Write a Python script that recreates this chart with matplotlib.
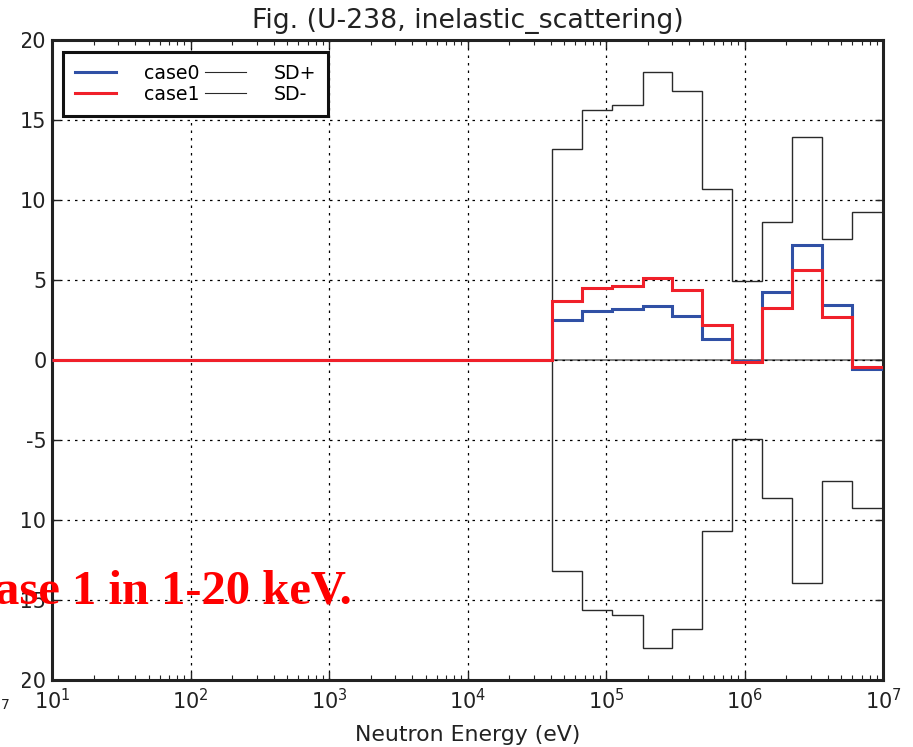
import matplotlib
matplotlib.use("Agg")
import matplotlib.pyplot as plt
from matplotlib.patches import Rectangle
from matplotlib.lines import Line2D

# Energy group edges (eV)
edges = [1e1, 4.06e4, 6.67e4, 1.11e5, 1.84e5, 3.0e5, 4.96e5, 8.17e5,
         1.34e6, 2.21e6, 3.65e6, 6.0e6, 1e7]
case0 = [0.0, 2.53, 3.09, 3.16, 3.36, 2.74, 1.30, -0.05, 4.24, 7.18, 3.41, -0.59]
case1 = [0.0, 3.68, 4.47, 4.63, 5.11, 4.38, 2.16, -0.13, 3.28, 5.63, 2.68, -0.45]
sd_plus = [0.0, 13.2, 15.6, 15.95, 18.0, 16.8, 10.7, 4.93, 8.65, 13.95, 7.56, 9.22]
sd_minus = [-v for v in sd_plus]

title = "Fig. (U-238, inelastic_scattering)"
xlabel = "Neutron Energy (eV)"
yticks = [-20, -15, -10, -5, 0, 5, 10, 15, 20]

W, H = 913, 747
fig = plt.figure(figsize=(W / 100, H / 100), dpi=100)
ax = fig.add_axes([52 / W, (H - 680) / H, 831 / W, 640 / H])

ax.axhline(0, color='0.5', lw=1.4, zorder=1)
ax.stairs(sd_plus, edges, baseline=None, color='#2a2a2a', lw=1.0, zorder=2)
ax.stairs(sd_minus, edges, baseline=None, color='#2a2a2a', lw=1.0, zorder=2)
ax.stairs(case0, edges, baseline=None, color='#3050a5', lw=2.2, zorder=3)
ax.stairs(case1, edges, baseline=None, color='#f0202a', lw=2.2, zorder=4)

ax.set_xscale('log')
ax.set_xlim(1e1, 1e7)
ax.set_ylim(-20, 20)
ax.set_yticks(yticks)
ax.set_yticklabels([str(v) for v in yticks])
ax.grid(True, which='major', color='black', linestyle=(0, (2, 4)), lw=0.9)
ax.tick_params(which='both', direction='in', top=True, right=True, colors='#222222')
ax.tick_params(which='major', length=6, width=1, labelsize=15)
ax.tick_params(which='minor', length=3.5, width=0.8)
ax.tick_params(axis='y', pad=4)
ax.tick_params(axis='x', pad=6)
for s in ax.spines.values():
    s.set_linewidth(2.2)
    s.set_color('#222222')

ax.set_title(title, fontsize=19.3, color='#222222', pad=8.5)
ax.set_xlabel(xlabel, fontsize=15.8, color='#222222', labelpad=8)

handles = [Line2D([], [], color='#3050a5', lw=2.2),
           Line2D([], [], color='#f0202a', lw=2.2),
           Line2D([], [], color='#2a2a2a', lw=0.8),
           Line2D([], [], color='#2a2a2a', lw=0.8)]
labels = ['case0', 'case1', 'SD+', 'SD-']
leg = ax.legend(handles, labels, ncol=2, loc='upper left', fontsize=13.6,
                fancybox=False, framealpha=1, edgecolor='#111111',
                handlelength=2.2, handletextpad=1.45, columnspacing=0.3,
                labelspacing=0.12, borderpad=0.62, borderaxespad=0,
                bbox_to_anchor=(11 / 831, 1 - 12 / 640))
leg.get_frame().set_linewidth(2.2)

# Overlay elements from the slide
fig.patches.append(Rectangle((0, 0), 22 / W, 1, transform=fig.transFigure,
                             facecolor='white', edgecolor='none', zorder=5))
fig.text(-5 / W, (H - 603) / H, "ase 1 in 1-20 keV.", color='#ff0000',
         fontsize=35, fontweight='bold', family='Liberation Serif',
         va='baseline', ha='left', zorder=6)
fig.text(1 / W, (H - 709) / H, "7", fontsize=10, color='#222222', zorder=6)

fig.savefig("out.png", dpi=100)
